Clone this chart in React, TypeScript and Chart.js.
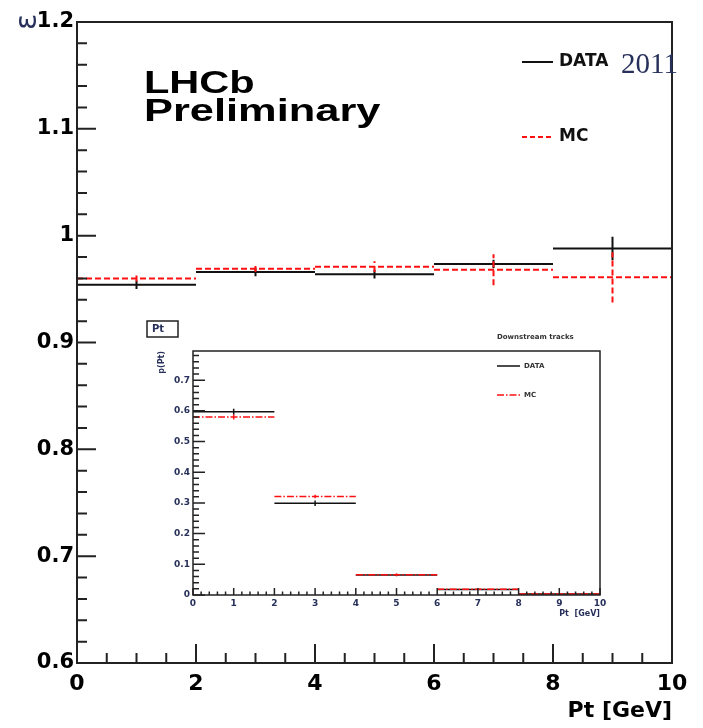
import { useEffect, useRef } from "react";
import { Chart, registerables } from "chart.js";

Chart.register(...registerables);

// Pt binning shared by both plots (GeV)
const binEdges = [0, 2, 4, 6, 8, 10];

// Efficiency ratio per Pt bin
const ratioData = [0.954, 0.966, 0.964, 0.9735, 0.988];
const ratioDataErr = [0.004, 0.004, 0.004, 0.004, 0.011];
const ratioMc = [0.96, 0.969, 0.971, 0.968, 0.961];
const ratioMcErr = [0.003, 0.003, 0.005, 0.0145, 0.0235];

// Normalised Pt distribution of downstream tracks
const ptData = [0.597, 0.299, 0.065, 0.018, 0.003];
const ptDataErr = [0.01, 0.009, 0.004, 0.002, 0.001];
const ptMc = [0.58, 0.321, 0.066, 0.019, 0.003];
const ptMcErr = [0.008, 0.006, 0.004, 0.002, 0.001];

const legendLabels = ["DATA", "MC"];

const FONT = "'DejaVu Sans'";
const NAVY = "#27305a";
const RED = "#ff1010";
const BLACK = "#111111";

type Pt = { x: number; y: number | null };

// Horizontal bin-width bars, broken between bins
function binBars(values: number[]): Pt[] {
  const pts: Pt[] = [];
  values.forEach((v, i) => {
    pts.push({ x: binEdges[i], y: v }, { x: binEdges[i + 1], y: v }, { x: binEdges[i + 1], y: null });
  });
  return pts;
}

// Vertical error bars at bin centres
function errorBars(values: number[], errs: number[]): Pt[] {
  const pts: Pt[] = [];
  values.forEach((v, i) => {
    const c = (binEdges[i] + binEdges[i + 1]) / 2;
    pts.push({ x: c, y: v - errs[i] }, { x: c, y: v + errs[i] }, { x: c, y: null });
  });
  return pts;
}

function seg(data: Pt[], color: string, width: number, dash: number[] = []) {
  return {
    type: "line" as const,
    data,
    borderColor: color,
    borderWidth: width,
    borderDash: dash,
    pointRadius: 0,
    fill: false,
    tension: 0,
    spanGaps: false,
  };
}

function tenthLabel(v: number | string) {
  const n = Number(v);
  const r = Math.round(n * 10) / 10;
  if (Math.abs(n - r) > 1e-6) return "";
  return String(r);
}

// Ticks pointing into the plot area, ROOT style
function inwardTicks(
  ctx: CanvasRenderingContext2D,
  chart: Chart,
  axis: "x" | "y",
  step: number,
  perMajor: number,
  majorLen: number,
  minorLen: number
) {
  const scale = chart.scales[axis];
  const area = chart.chartArea;
  const n = Math.round((scale.max - scale.min) / step);
  ctx.beginPath();
  for (let k = 0; k <= n; k++) {
    const v = scale.min + k * step;
    if (v > scale.max + 1e-9) break;
    const len = k % perMajor === 0 ? majorLen : minorLen;
    const p = scale.getPixelForValue(v);
    if (axis === "x") {
      ctx.moveTo(p, area.bottom);
      ctx.lineTo(p, area.bottom - len);
    } else {
      ctx.moveTo(area.left, p);
      ctx.lineTo(area.left + len, p);
    }
  }
  ctx.stroke();
}

function stretchedText(ctx: CanvasRenderingContext2D, text: string, x: number, y: number, sx: number) {
  ctx.save();
  ctx.translate(x, y);
  ctx.scale(sx, 1);
  ctx.fillText(text, 0, 0);
  ctx.restore();
}

const mainDecor = {
  id: "mainDecor",
  afterDraw(chart: Chart) {
    const ctx = chart.ctx;
    const a = chart.chartArea;
    ctx.save();
    ctx.strokeStyle = "#222";
    ctx.lineWidth = 2;
    ctx.setLineDash([]);
    ctx.strokeRect(a.left, a.top, a.width, a.height);
    inwardTicks(ctx, chart, "y", 0.02, 5, 19, 10);
    inwardTicks(ctx, chart, "x", 0.5, 4, 19, 10);

    // y-axis title, rotated
    ctx.save();
    ctx.translate(28, 22);
    ctx.rotate(-Math.PI / 2);
    ctx.fillStyle = NAVY;
    ctx.font = `30px ${FONT}`;
    ctx.textAlign = "center";
    ctx.textBaseline = "middle";
    ctx.fillText("ε", 0, 0);
    ctx.restore();

    // experiment label
    ctx.fillStyle = "#000";
    ctx.font = `bold 31px 'Liberation Sans'`;
    ctx.textAlign = "left";
    ctx.textBaseline = "alphabetic";
    stretchedText(ctx, "LHCb", 144, 93, 1.34);
    stretchedText(ctx, "Preliminary", 144, 121, 1.4);

    // legend
    ctx.lineWidth = 2;
    ctx.strokeStyle = BLACK;
    ctx.beginPath();
    ctx.moveTo(522, 62);
    ctx.lineTo(553, 62);
    ctx.stroke();
    ctx.strokeStyle = RED;
    ctx.setLineDash([5, 3]);
    ctx.beginPath();
    ctx.moveTo(522, 137);
    ctx.lineTo(553, 137);
    ctx.stroke();
    ctx.setLineDash([]);
    ctx.fillStyle = BLACK;
    ctx.font = `bold 17px ${FONT}`;
    ctx.textBaseline = "middle";
    ctx.fillText(legendLabels[0], 559, 62);
    ctx.fillText(legendLabels[1], 559, 137);
    ctx.fillStyle = NAVY;
    ctx.font = `29px 'Liberation Serif'`;
    ctx.textBaseline = "alphabetic";
    ctx.fillText("2011", 621, 73);
    ctx.restore();
  },
};

const insetDecor = {
  id: "insetDecor",
  afterDraw(chart: Chart) {
    const ctx = chart.ctx;
    const a = chart.chartArea;
    ctx.save();
    ctx.strokeStyle = "#222";
    ctx.lineWidth = 1.5;
    ctx.setLineDash([]);
    ctx.strokeRect(a.left, a.top, a.width, a.height);
    inwardTicks(ctx, chart, "y", 0.02, 5, 12, 6);
    inwardTicks(ctx, chart, "x", 0.2, 5, 7, 3.5);

    // variable name box
    ctx.lineWidth = 1.5;
    ctx.strokeRect(7, 9, 31, 16);
    ctx.fillStyle = NAVY;
    ctx.font = `bold 10px ${FONT}`;
    ctx.textBaseline = "middle";
    ctx.textAlign = "left";
    ctx.fillText("Pt", 12, 17.5);

    // legend
    ctx.font = `bold 7px ${FONT}`;
    ctx.fillStyle = "#333";
    ctx.fillText("Downstream tracks", 357, 25);
    ctx.strokeStyle = BLACK;
    ctx.lineWidth = 1.5;
    ctx.beginPath();
    ctx.moveTo(357, 54);
    ctx.lineTo(380, 54);
    ctx.stroke();
    ctx.strokeStyle = RED;
    ctx.setLineDash([7, 2, 1.5, 2]);
    ctx.beginPath();
    ctx.moveTo(357, 83);
    ctx.lineTo(380, 83);
    ctx.stroke();
    ctx.setLineDash([]);
    ctx.fillStyle = "#333";
    ctx.fillText(legendLabels[0], 384, 54);
    ctx.fillText(legendLabels[1], 384, 83);
    ctx.restore();
  },
};

export default function App() {
  const mainRef = useRef<HTMLCanvasElement>(null);
  const insetRef = useRef<HTMLCanvasElement>(null);

  useEffect(() => {
    const mcDash = [6, 3];
    const main = new Chart(mainRef.current!, {
      type: "line",
      data: {
        datasets: [
          seg(binBars(ratioMc), RED, 2, mcDash),
          seg(errorBars(ratioMc, ratioMcErr), RED, 2, mcDash),
          seg(binBars(ratioData), BLACK, 2),
          seg(errorBars(ratioData, ratioDataErr), BLACK, 2),
        ],
      },
      options: {
        animation: false,
        responsive: false,
        layout: { padding: { top: 22, right: 31, left: 0, bottom: 0 } },
        plugins: { legend: { display: false }, tooltip: { enabled: false } },
        scales: {
          x: {
            type: "linear",
            min: 0,
            max: 10,
            grid: { display: false, drawTicks: false },
            border: { display: false },
            ticks: {
              stepSize: 2,
              maxRotation: 0,
              autoSkip: false,
              padding: 8,
              color: "#000",
              font: { family: FONT, weight: "bold", size: 22 },
            },
            title: {
              display: true,
              text: "Pt [GeV]",
              align: "end",
              color: "#000",
              font: { family: FONT, weight: "bold", size: 22 },
              padding: { top: 0, bottom: 4 },
            },
            afterFit: (s: any) => {
              s.height = 65;
            },
          },
          y: {
            type: "linear",
            min: 0.6,
            max: 1.2,
            grid: { display: false, drawTicks: false },
            border: { display: false },
            ticks: {
              stepSize: 0.1,
              padding: 3,
              color: "#000",
              font: { family: FONT, weight: "bold", size: 21 },
              callback: tenthLabel,
            },
            afterFit: (s: any) => {
              s.width = 77;
            },
          },
        },
      },
      plugins: [mainDecor],
    } as any);

    const insetDash = [7, 2, 1.5, 2];
    const inset = new Chart(insetRef.current!, {
      type: "line",
      data: {
        datasets: [
          seg(binBars(ptMc), RED, 1.5, insetDash),
          seg(errorBars(ptMc, ptMcErr), RED, 1.5),
          seg(binBars(ptData), BLACK, 1.5),
          seg(errorBars(ptData, ptDataErr), BLACK, 1.5),
        ],
      },
      options: {
        animation: false,
        responsive: false,
        layout: { padding: { top: 39, right: 20, left: 0, bottom: 0 } },
        plugins: { legend: { display: false }, tooltip: { enabled: false } },
        scales: {
          x: {
            type: "linear",
            min: 0,
            max: 10,
            grid: { display: false, drawTicks: false },
            border: { display: false },
            ticks: {
              stepSize: 1,
              maxRotation: 0,
              autoSkip: false,
              padding: 3,
              color: NAVY,
              font: { family: FONT, weight: "bold", size: 9 },
            },
            title: {
              display: true,
              text: "Pt  [GeV]",
              align: "end",
              color: NAVY,
              font: { family: FONT, weight: "bold", size: 8 },
              padding: { top: 0, bottom: 9 },
            },
            afterFit: (s: any) => {
              s.height = 33;
            },
          },
          y: {
            type: "linear",
            min: 0,
            max: 0.795,
            grid: { display: false, drawTicks: false },
            border: { display: false },
            ticks: {
              stepSize: 0.1,
              padding: 3,
              color: NAVY,
              font: { family: FONT, weight: "bold", size: 9 },
              callback: tenthLabel,
            },
            title: {
              display: true,
              text: "p(Pt)",
              align: "end",
              color: NAVY,
              font: { family: FONT, weight: "bold", size: 8 },
              padding: { top: 17, bottom: 0 },
            },
            afterFit: (s: any) => {
              s.width = 53;
            },
          },
        },
      },
      plugins: [insetDecor],
    } as any);

    return () => {
      main.destroy();
      inset.destroy();
    };
  }, []);

  return (
    <div style={{ position: "fixed", left: 0, top: 0, width: 703, height: 728, background: "#fff" }}>
      <canvas ref={mainRef} width={703} height={728} style={{ position: "absolute", left: 0, top: 0 }} />
      <canvas ref={insetRef} width={480} height={316} style={{ position: "absolute", left: 140, top: 312 }} />
    </div>
  );
}
